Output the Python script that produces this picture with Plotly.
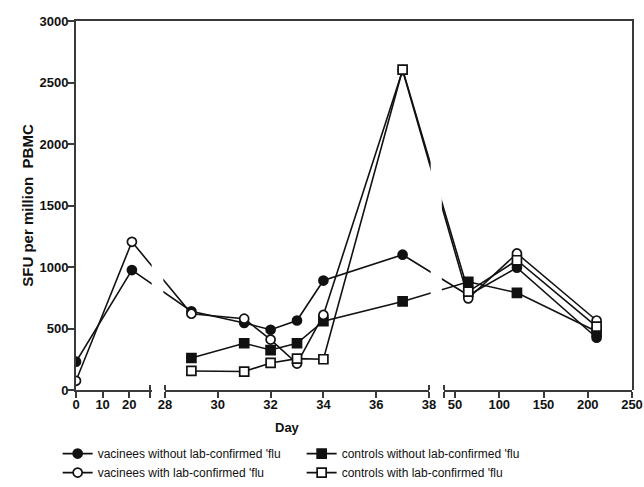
import plotly.graph_objects as go

# ---------------- data ----------------
vac_days = [0, 21, 29, 31, 32, 33, 34, 37, 65, 120, 210]
vac_without = [230, 975, 640, 545, 490, 565, 890, 1100, 770, 995, 425]
vac_with = [75, 1205, 620, 580, 410, 215, 610, 2600, 745, 1110, 565]

ctrl_days = [29, 31, 32, 33, 34, 37, 65, 120, 210]
ctrl_without = [260, 380, 325, 380, 560, 720, 880, 790, 475]
ctrl_with = [155, 150, 220, 255, 250, 2605, 800, 1055, 515]

seg_ranges = [(0, 27.8), (28, 38), (37, 250)]
seg_ticks = [[0, 10, 20], [28, 30, 32, 34, 36, 38], [50, 100, 150, 200, 250]]
y_ticks = [0, 500, 1000, 1500, 2000, 2500, 3000]

# ---------------- layout geometry ----------------
W, H = 644, 487
ML, MR, MT, MB = 76, 12, 21, 97
PW = W - ML - MR
PH = H - MT - MB
seg_px = [(76, 150), (165, 429), (443.5, 632)]
seg_dom = [((a - ML) / PW, (b - ML) / PW) for a, b in seg_px]


def to_pos(d):
    """Map a day value onto the broken axis (fraction of plot width)."""
    for (r0, r1), (d0, d1) in zip(seg_ranges, seg_dom):
        if r0 <= d <= r1:
            return d0 + (d - r0) / (r1 - r0) * (d1 - d0)
    raise ValueError(d)


INK = "#111111"
AX = "#3a3a3a"
FONT = "Liberation Sans, Arial, sans-serif"
NARROW = "Liberation Sans Narrow, Arial Narrow, Liberation Sans, Arial, sans-serif"

fig = go.Figure()

series = [
    ("vacinees without lab-confirmed 'flu", vac_days, vac_without, "circle", INK),
    ("controls without lab-confirmed 'flu", ctrl_days, ctrl_without, "square", INK),
    ("vacinees with lab-confirmed 'flu", vac_days, vac_with, "circle", "white"),
    ("controls with lab-confirmed 'flu", ctrl_days, ctrl_with, "square", "white"),
]
for name, dx, dy, sym, fill in series:
    fig.add_trace(go.Scatter(
        x=[to_pos(d) for d in dx], y=dy, name=name, mode="lines+markers",
        line=dict(color=INK, width=1.6),
        marker=dict(symbol=sym, size=9, color=fill, line=dict(color=INK, width=1.7)),
        xaxis="x", yaxis="y",
    ))

# dummy traces so the display axes get drawn
for i in range(3):
    fig.add_trace(go.Scatter(x=[None], y=[None], xaxis=f"x{i+2}", yaxis="y",
                             showlegend=False, hoverinfo="skip"))

layout = dict(
    width=W, height=H,
    margin=dict(l=ML, r=MR, t=MT, b=MB, autoexpand=False),
    paper_bgcolor="white", plot_bgcolor="rgba(0,0,0,0)",
    font=dict(family=FONT, color=INK, size=12),
    showlegend=True,
    xaxis=dict(domain=[0, 1], range=[0, 1], side="top", anchor="y",
               showline=True, linewidth=2, linecolor=AX, showticklabels=False,
               ticks="", showgrid=False, zeroline=False, fixedrange=True),
    yaxis=dict(range=[0, 3000], anchor="x", tickvals=y_ticks,
               showline=True, linewidth=2, linecolor=AX, mirror=True,
               ticks="outside", ticklen=6, tickwidth=1.5, tickcolor=AX,
               ticklabelstandoff=-3,
               tickfont=dict(size=13, weight="bold", color=INK),
               showgrid=False, zeroline=False, fixedrange=True,
               title=dict(text="SFU per million\u00a0\u00a0PBMC", standoff=2,
                          font=dict(size=15, weight="bold", color=INK))),
    legend=dict(orientation="h", x=-0.033, xanchor="left", y=-0.133, yanchor="top",
                entrywidth=199, font=dict(family=NARROW, size=12, color=INK),
                bgcolor="rgba(0,0,0,0)", tracegroupgap=0),
    annotations=[dict(text="<b>Day</b>", x=(287 - ML) / PW, y=(MT + PH - 428) / PH,
                      xref="paper", yref="paper", showarrow=False,
                      font=dict(size=13, color=INK), yanchor="middle")],
    shapes=[],
)

for i, ((r0, r1), (d0, d1), ticks) in enumerate(zip(seg_ranges, seg_dom, seg_ticks)):
    vals = list(ticks)
    txt = [str(t) for t in ticks]
    if r0 not in ticks:
        vals.insert(0, r0)
        txt.insert(0, "")
    if r1 not in ticks:
        vals.append(r1)
        txt.append("")
    caps = []
    if i > 0:
        caps.append(r0 + 1e-3)
    if i < 2:
        caps.append(r1 - 1e-3)
    layout[f"xaxis{i+2}"] = dict(
        domain=[d0, d1], range=[r0, r1], anchor="y", side="bottom",
        showline=True, linewidth=2, linecolor=AX,
        ticks="outside", ticklen=6, tickwidth=1.5, tickcolor=AX,
        ticklabelstandoff=-5,
        tickmode="array", tickvals=vals, ticktext=txt,
        tickfont=dict(size=13, weight="bold", color=INK),
        minor=dict(tickmode="array", tickvals=caps, ticks="inside", ticklen=5,
                   tickwidth=1.5, tickcolor=AX, showgrid=False),
        showgrid=False, zeroline=False, fixedrange=True,
    )

# white masks over the axis breaks so lines are interrupted there
for (a0, a1), (b0, b1) in zip(seg_dom[:-1], seg_dom[1:]):
    layout["shapes"].append(dict(type="rect", xref="paper", yref="paper",
                                 x0=a1 + 0.003, x1=b0 - 0.003, y0=0.03, y1=0.975,
                                 fillcolor="white", line=dict(width=0), layer="above"))

fig.update_layout(**layout)
fig.write_html("out.html", config={"displayModeBar": False},
               post_script="document.body.style.margin='0px';")
